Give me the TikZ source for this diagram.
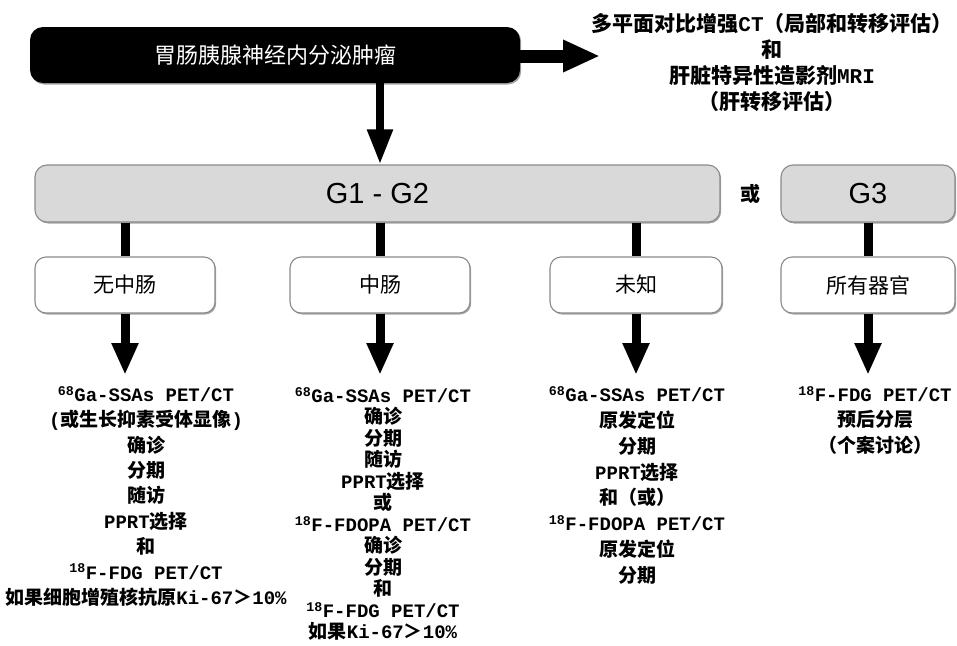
\documentclass[tikz,border=0pt]{standalone}
\usepackage{fontspec}
\setmainfont{Liberation Sans}
\newfontfamily\cjk{Noto Sans CJK SC}
\newfontfamily\monof{Liberation Mono}
\newfontfamily\gfont{Liberation Sans}
\usetikzlibrary{arrows.meta,shadows,calc}
\newcommand\mn[1]{{\monof\bfseries #1}}
\definecolor{gfill}{HTML}{D9D9D9}
\definecolor{gline}{HTML}{8A8A8A}
\tikzset{
  myshadow/.style={drop shadow={shadow xshift=1.2pt,shadow yshift=-1.5pt,opacity=0.35,fill=black}},
  blackbox/.style={fill=black,rounded corners=13pt,text=white,inner sep=0pt,
    font=\cjk\fontsize{22}{22}\selectfont,myshadow},
  gbox/.style={fill=gfill,draw=gline,line width=1.1pt,rounded corners=12pt,inner sep=0pt,
    font=\gfont\fontsize{29}{29}\selectfont,minimum height=57pt,myshadow},
  subbox/.style={fill=white,draw=gline,line width=1.1pt,rounded corners=11pt,inner sep=0pt,
    font=\cjk\fontsize{21}{21}\selectfont,minimum height=56pt,myshadow},
  conn/.style={line width=9pt,black},
  bigarrow/.style={line width=9pt,black,-{Triangle[width=25pt,length=32pt]}},
  toparrow/.style={line width=8pt,black,-{Triangle[width=24pt,length=35pt]}},
  rightarrow/.style={line width=13pt,black,-{Triangle[width=30pt,length=37pt]}},
  coltext/.style={align=center,anchor=north,inner sep=0pt},
}
\begin{document}
\begin{tikzpicture}[x=1pt,y=1pt]
\useasboundingbox (0,0) rectangle (957,-645);
% top box
\node[blackbox,minimum width=490pt,minimum height=56pt] (top) at (275,-55) {胃肠胰腺神经内分泌肿瘤};
\node[coltext,font=\cjk\bfseries\fontsize{21}{26}\selectfont] (imaging) at (772,-13)
  {多平面对比增强\mn{CT}（局部和转移评估）\\ 和\\ 肝脏特异性造影剂\mn{MRI}\\ （肝转移评估）};
\coordinate (rtip) at (600,-56);
% grade boxes
\node[gbox,minimum width=685pt] (g12) at (377.5,-193.5) {G1 - G2};
\node[gbox,minimum width=174pt] (g3) at (868,-193.5) {G3};
\node[font=\cjk\bfseries\fontsize{20}{20}\selectfont,inner sep=0pt] (or) at (750,-194) {或};
% sub boxes
\node[subbox,minimum width=180pt] (s1) at (125,-285) {无中肠};
\node[subbox,minimum width=180pt] (s2) at (380,-285) {中肠};
\node[subbox,minimum width=172pt] (s3) at (636,-285) {未知};
\node[subbox,minimum width=174pt] (s4) at (868,-285) {所有器官};
% arrow tips
\coordinate (a1) at (125,-375);
\coordinate (a2) at (380,-375);
\coordinate (a3) at (636,-375);
\coordinate (a4) at (868,-375);
% connectors
\draw[rightarrow] (top.east |- rtip) -- (rtip);
\draw[toparrow] (top.south -| s2.north) -- (g12.north -| s2.north);
\draw[conn] (g12.south -| s1.north) -- (s1.north);
\draw[conn] (g12.south -| s2.north) -- (s2.north);
\draw[conn] (g12.south -| s3.north) -- (s3.north);
\draw[conn] (g3.south) -- (s4.north);
\draw[bigarrow] (s1.south) -- (a1);
\draw[bigarrow] (s2.south) -- (a2);
\draw[bigarrow] (s3.south) -- (a3);
\draw[bigarrow] (s4.south) -- (a4);
% result texts
\node[coltext,font=\cjk\bfseries\fontsize{19}{25.4}\selectfont] (t1) at (146,-386)
  {\mn{\textsuperscript{68}Ga-SSAs PET/CT}\\
   \mn{(}或生长抑素受体显像\mn{)}\\
   确诊\\ 分期\\ 随访\\ \mn{PPRT}选择\\ 和\\
   \mn{\textsuperscript{18}F-FDG PET/CT}\\
   如果细胞增殖核抗原\mn{Ki-67}＞\mn{10\%}};
\node[coltext,font=\cjk\bfseries\fontsize{19}{21.5}\selectfont] (t2) at (383,-387)
  {\mn{\textsuperscript{68}Ga-SSAs PET/CT}\\
   确诊\\ 分期\\ 随访\\ \mn{PPRT}选择\\ 或\\
   \mn{\textsuperscript{18}F-FDOPA PET/CT}\\
   确诊\\ 分期\\ 和\\
   \mn{\textsuperscript{18}F-FDG PET/CT}\\
   如果\mn{Ki-67}＞\mn{10\%}};
\node[coltext,font=\cjk\bfseries\fontsize{19}{25.9}\selectfont] (t3) at (637,-386)
  {\mn{\textsuperscript{68}Ga-SSAs PET/CT}\\
   原发定位\\ 分期\\ \mn{PPRT}选择\\ 和（或）\\
   \mn{\textsuperscript{18}F-FDOPA PET/CT}\\
   原发定位\\ 分期};
\node[coltext,font=\cjk\bfseries\fontsize{19}{25.5}\selectfont] (t4) at (875,-386)
  {\mn{\textsuperscript{18}F-FDG PET/CT}\\
   预后分层\\ （个案讨论）};
\end{tikzpicture}
\end{document}
